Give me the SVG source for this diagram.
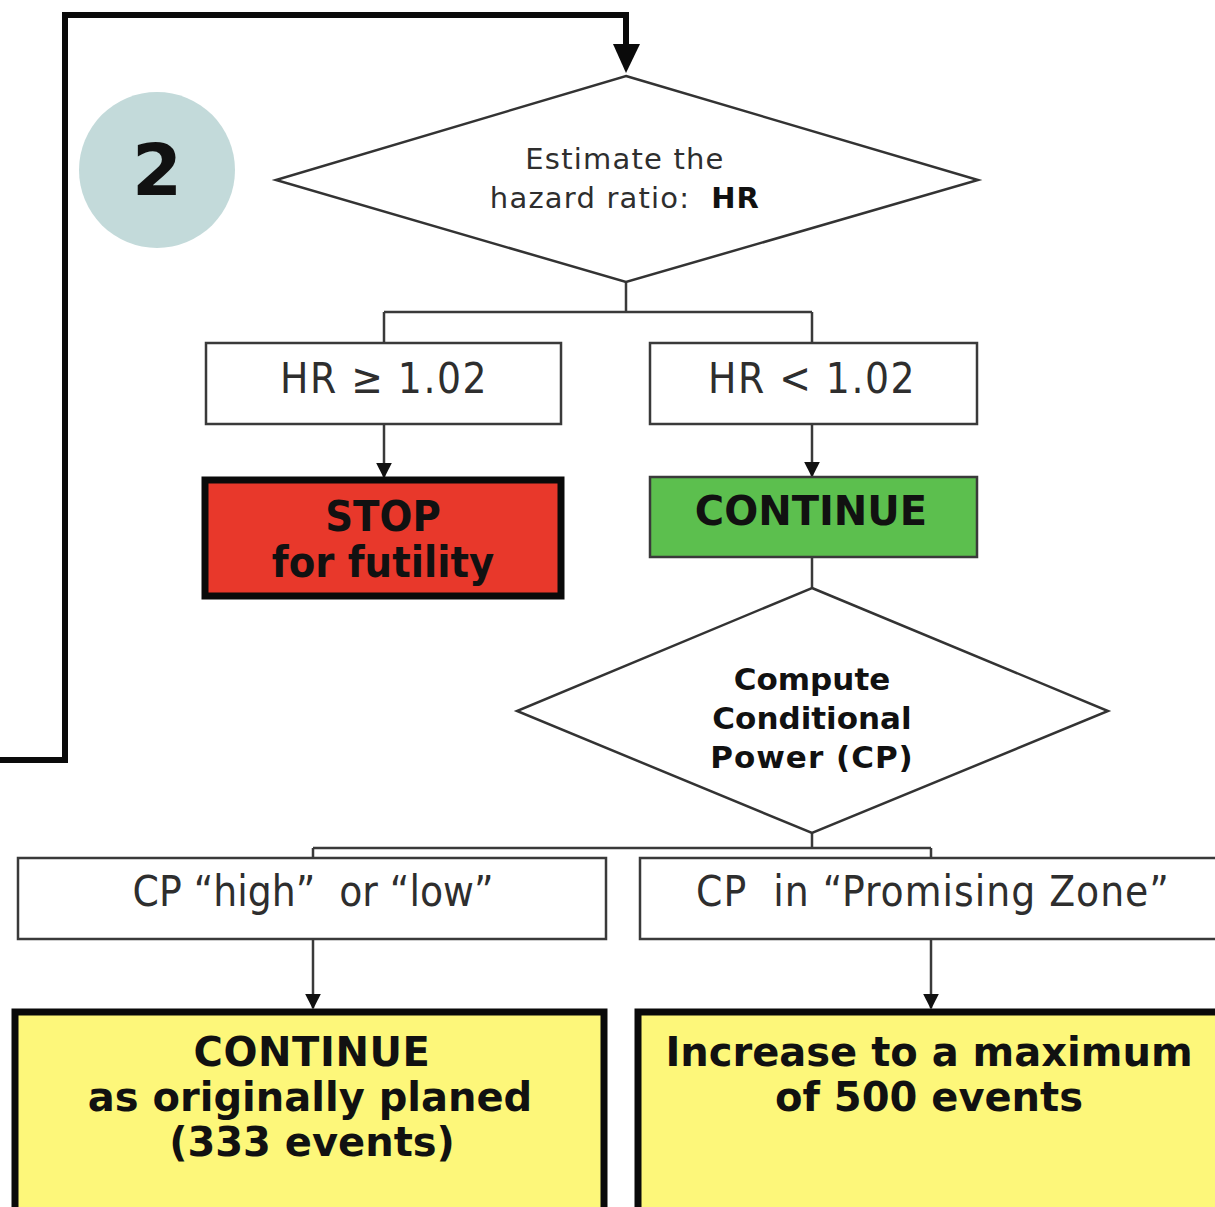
<svg xmlns="http://www.w3.org/2000/svg" width="1215" height="1207" viewBox="0 0 1215 1207">
  <style>
    .bg { fill: #ffffff; }
    .box { fill: #ffffff; stroke: #3a3a3a; stroke-width: 2.5; }
    .dia { fill: #ffffff; stroke: #333333; stroke-width: 2.5; }
    .heavy { stroke: #0a0a0a; stroke-width: 7; }
    .wire { fill: none; stroke: #3a3a3a; stroke-width: 2.5; }
    .loop { fill: none; stroke: #0a0a0a; stroke-width: 6; }
    text { white-space: pre; }
    .reg { font-family: "DejaVu Sans", Verdana, sans-serif; fill: #2e2e2e; text-anchor: middle; }
    .bold { font-family: "DejaVu Sans", Verdana, sans-serif; font-weight: bold; fill: #111111; text-anchor: middle; }
    .cond { font-stretch: condensed; }
  </style>
  <defs>
    <marker id="arrMid" viewBox="0 0 10 10" refX="9" refY="5" markerWidth="16" markerHeight="16" orient="auto" markerUnits="userSpaceOnUse">
      <path d="M0,0 L10,5 L0,10 z" fill="#111111"/>
    </marker>
  </defs>

  <rect class="bg" x="0" y="0" width="1215" height="1207"/>

  <!-- connectors -->
  <g id="connectors">
    <path class="loop" d="M0,760 H65 V15 H626 V46"/>
    <polygon points="613,44 640,44 626,73" fill="#0a0a0a"/>
    <path class="wire" d="M626,282 V312 M384,312 H812 M384,312 V343 M812,312 V343"/>
    <path class="wire" d="M384,424 V477" marker-end="url(#arrMid)"/>
    <path class="wire" d="M812,424 V476" marker-end="url(#arrMid)"/>
    <path class="wire" d="M812,557 V588"/>
    <path class="wire" d="M812,833 V848 M313,848 H931 M313,848 V858 M931,848 V858"/>
    <path class="wire" d="M313,939 V1008" marker-end="url(#arrMid)"/>
    <path class="wire" d="M931,939 V1008" marker-end="url(#arrMid)"/>
  </g>

  <!-- step badge -->
  <g id="badge">
    <ellipse cx="157" cy="170" rx="78" ry="78" fill="#c3dada"/>
    <text class="bold" x="157" y="195" font-size="72" fill="#0a0a0a">2</text>
  </g>

  <g id="estimate-hr">
    <polygon class="dia" points="626,76 978,180 626,282 276,180"/>
    <text class="reg" x="625" y="169" font-size="29" letter-spacing="1.2">Estimate the</text>
    <text class="reg" x="625" y="208" font-size="29" letter-spacing="1.2">hazard ratio:  <tspan font-weight="bold" fill="#111111">HR</tspan></text>
  </g>

  <g id="hr-high">
    <rect class="box" x="206" y="343" width="355" height="81"/>
    <text class="reg cond" x="384" y="393" font-size="42" letter-spacing="1.5">HR ≥ 1.02</text>
  </g>

  <g id="hr-low">
    <rect class="box" x="650" y="343" width="327" height="81"/>
    <text class="reg cond" x="812" y="393" font-size="42" letter-spacing="1.5">HR &lt; 1.02</text>
  </g>

  <g id="stop">
    <rect x="205" y="480" width="356" height="116" fill="#e8382b" class="heavy"/>
    <text class="bold cond" x="383" y="531" font-size="43">STOP</text>
    <text class="bold cond" x="383" y="577" font-size="43">for futility</text>
  </g>

  <g id="continue">
    <rect x="650" y="477" width="327" height="80" fill="#5cbf4e" stroke="#3a3a3a" stroke-width="2.5"/>
    <text class="bold" x="811" y="525" font-size="40">CONTINUE</text>
  </g>

  <g id="compute-cp">
    <polygon class="dia" points="812,588 1108,711 812,833 517,711"/>
    <text class="bold" x="812" y="690" font-size="31">Compute</text>
    <text class="bold" x="812" y="729" font-size="31">Conditional</text>
    <text class="bold" x="812" y="768" font-size="31" letter-spacing="1">Power (CP)</text>
  </g>

  <g id="cp-high-low">
    <rect class="box" x="18" y="858" width="588" height="81"/>
    <text class="reg cond" x="313" y="906" font-size="42">CP “high”  or “low”</text>
  </g>

  <g id="cp-promising">
    <rect class="box" x="640" y="858" width="590" height="81"/>
    <text class="reg cond" x="933" y="906" font-size="42" letter-spacing="1">CP  in “Promising Zone”</text>
  </g>

  <g id="continue-planned">
    <rect x="15" y="1012" width="589" height="200" fill="#fdf77a" class="heavy"/>
    <text class="bold" x="312" y="1066" font-size="40" letter-spacing="0.6">CONTINUE</text>
    <text class="bold" x="310" y="1111" font-size="40">as originally planed</text>
    <text class="bold" x="312" y="1156" font-size="40">(333 events)</text>
  </g>

  <g id="increase-events">
    <rect x="638" y="1012" width="590" height="200" fill="#fdf77a" class="heavy"/>
    <text class="bold" x="929" y="1066" font-size="40">Increase to a maximum</text>
    <text class="bold" x="929" y="1111" font-size="40">of 500 events</text>
  </g>
</svg>
